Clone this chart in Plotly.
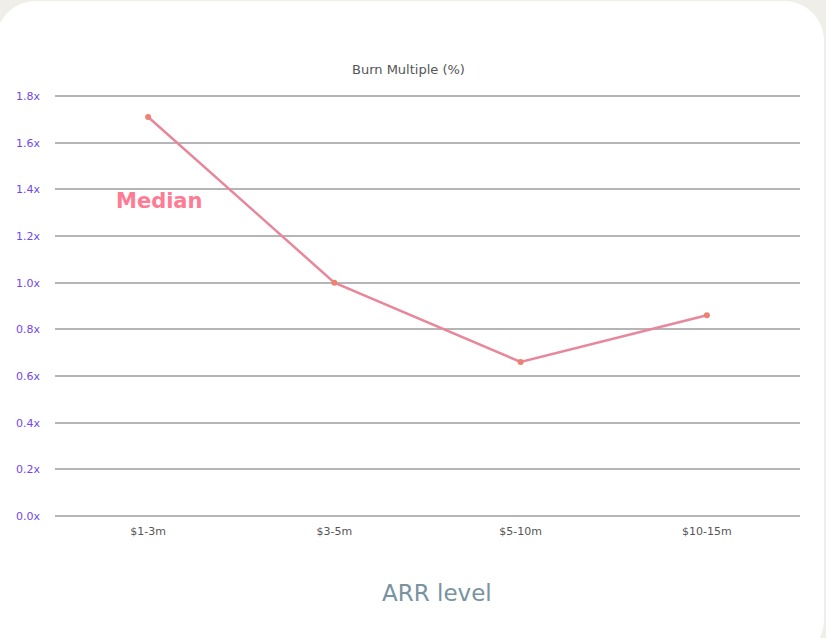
import plotly.graph_objects as go

# Burn multiple by ARR band (median)
arr_levels = ["$1-3m", "$3-5m", "$5-10m", "$10-15m"]
median_burn = [1.71, 1.0, 0.66, 0.86]
y_ticks = [0.0, 0.2, 0.4, 0.6, 0.8, 1.0, 1.2, 1.4, 1.6, 1.8]
y_tick_text = [f"{v:.1f}x" for v in y_ticks]

W, H = 826, 638
EDGE = 3  # pixels of headroom so the 0.0x and 1.8x gridlines stay visible
ML, MR, MT, MB = 55, 26, 96 - EDGE, 122 - EDGE
PW, PH = W - ML - MR, H - MT - MB
Y_PAD = 1.8 * EDGE / (PH - 2 * EDGE)
Y_RANGE = [-Y_PAD, 1.8 + Y_PAD]


def px_x(px):
    return (px - ML) / PW


def px_y(py):
    return (H - MB - py) / PH


def rounded_card(x0, y0, x1, y1, r):
    # rounded rectangle in pixel space, expressed in paper coordinates
    k = 0.5523 * r
    pts = [
        ("M", [(x0 + r, y0)]),
        ("L", [(x1 - r, y0)]),
        ("C", [(x1 - r + k, y0), (x1, y0 + r - k), (x1, y0 + r)]),
        ("L", [(x1, y1 - r)]),
        ("C", [(x1, y1 - r + k), (x1 - r + k, y1), (x1 - r, y1)]),
        ("L", [(x0 + r, y1)]),
        ("C", [(x0 + r - k, y1), (x0, y1 - r + k), (x0, y1 - r)]),
        ("L", [(x0, y0 + r)]),
        ("C", [(x0, y0 + r - k), (x0 + r - k, y0), (x0 + r, y0)]),
    ]
    out = []
    for cmd, coords in pts:
        out.append(cmd + " " + " ".join(f"{px_x(a):.5f},{px_y(b):.5f}" for a, b in coords))
    return " ".join(out) + " Z"


fig = go.Figure()
fig.add_trace(go.Scatter(
    x=arr_levels,
    y=median_burn,
    mode="lines+markers",
    line=dict(color="#e8879b", width=2.5),
    marker=dict(color="#ef8170", size=6),
    showlegend=False,
    hoverinfo="x+y",
))

font_family = "DejaVu Sans, sans-serif"


def label(text, px, py, size, color):
    return dict(
        text=text,
        x=px_x(px), y=px_y(py),
        xref="paper", yref="paper",
        xanchor="center", yanchor="middle",
        showarrow=False,
        font=dict(size=size, color=color),
    )


fig.update_layout(
    width=W,
    height=H,
    margin=dict(l=ML, r=MR, t=MT, b=MB),
    paper_bgcolor="#efeee9",
    plot_bgcolor="rgba(0,0,0,0)",
    font=dict(family=font_family),
    xaxis=dict(
        type="category",
        range=[-0.5, 3.5],
        showgrid=False,
        zeroline=False,
        showline=False,
        ticks="",
        ticklabelstandoff=4,
        tickfont=dict(size=11, color="#555555"),
    ),
    yaxis=dict(
        range=Y_RANGE,
        tickvals=y_ticks,
        ticktext=y_tick_text,
        showgrid=True,
        gridcolor="#b5b5b5",
        gridwidth=1.5,
        zeroline=False,
        showline=False,
        ticks="",
        ticklabelstandoff=14,
        tickfont=dict(size=11, color="#7248ee"),
    ),
    shapes=[dict(
        type="path",
        xref="paper",
        yref="paper",
        path=rounded_card(-4, 1, 824, 660, 40),
        fillcolor="#ffffff",
        line=dict(width=0),
        layer="below",
    )],
    annotations=[
        label("Burn Multiple (%)", 408, 69, 13, "#555555"),
        label("<b>Median</b>", 159, 201, 21, "#ff7b93"),
        label("ARR level", 437, 593, 23, "#7893a1"),
    ],
)

fig.write_html("out.html")
